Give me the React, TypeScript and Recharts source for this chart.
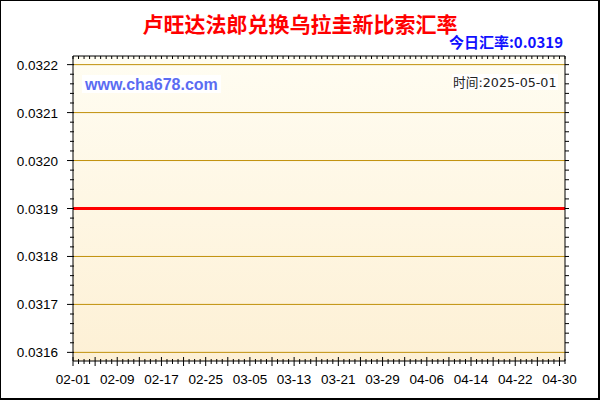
import { LineChart, Line, XAxis, YAxis, CartesianGrid } from 'recharts';

const START = Date.UTC(2025, 1, 1);
const DAY_MS = 86400000;

// daily rate, 02-01 .. 05-01
const rates = [
  0.0319, 0.0319, 0.0319, 0.0319, 0.0319, 0.0319, 0.0319, 0.0319, 0.0319, 0.0319,
  0.0319, 0.0319, 0.0319, 0.0319, 0.0319, 0.0319, 0.0319, 0.0319, 0.0319, 0.0319,
  0.0319, 0.0319, 0.0319, 0.0319, 0.0319, 0.0319, 0.0319, 0.0319, 0.0319, 0.0319,
  0.0319, 0.0319, 0.0319, 0.0319, 0.0319, 0.0319, 0.0319, 0.0319, 0.0319, 0.0319,
  0.0319, 0.0319, 0.0319, 0.0319, 0.0319, 0.0319, 0.0319, 0.0319, 0.0319, 0.0319,
  0.0319, 0.0319, 0.0319, 0.0319, 0.0319, 0.0319, 0.0319, 0.0319, 0.0319, 0.0319,
  0.0319, 0.0319, 0.0319, 0.0319, 0.0319, 0.0319, 0.0319, 0.0319, 0.0319, 0.0319,
  0.0319, 0.0319, 0.0319, 0.0319, 0.0319, 0.0319, 0.0319, 0.0319, 0.0319, 0.0319,
  0.0319, 0.0319, 0.0319, 0.0319, 0.0319, 0.0319, 0.0319, 0.0319, 0.0319, 0.0319,
];

const tickLabels = ['02-01', '02-09', '02-17', '02-25', '03-05', '03-13', '03-21', '03-29', '04-06', '04-14', '04-22', '04-30'];

const yMajor = [0.0316, 0.0317, 0.0318, 0.0319, 0.032, 0.0321, 0.0322];
const yDomain = [0.031582, 0.032218];

const title = '卢旺达法郎兑换乌拉圭新比索汇率';
const todayLabel = '今日汇率:0.0319';
const timeLabel = '时间:2025-05-01';
const site = 'www.cha678.com';

const AXIS_FONT = '"Liberation Sans", Arial, sans-serif';

const md = (i: number) => {
  const d = new Date(START + i * DAY_MS);
  return String(d.getUTCMonth() + 1).padStart(2, '0') + '-' + String(d.getUTCDate()).padStart(2, '0');
};

const data = rates.map((rate, i) => ({ day: i, date: md(i), rate }));
const dayTicks = data.map((d) => d.day);
const labelDays = tickLabels.map((l) => data.findIndex((d) => d.date === l));
// minor ticks every 0.00002 between the labelled values
const yTicks = yMajor.flatMap((m, i) =>
  i === yMajor.length - 1 ? [m] : [0, 1, 2, 3, 4].map((k) => +(m + k * 0.00002).toFixed(5))
);

const isMajorY = (v: number) => yMajor.some((m) => Math.abs(m - v) < 1e-9);

function LeftTick({ x, y, payload }: any) {
  const major = isMajorY(payload.value);
  return (
    <g>
      <line x1={x - (major ? 6 : 3)} x2={x + 1} y1={y} y2={y} stroke="#000" />
      {major && (
        <text x={x - 15} y={y + 5} textAnchor="end" fontSize={13.5} fontFamily={AXIS_FONT} fill="#000">
          {payload.value.toFixed(4)}
        </text>
      )}
    </g>
  );
}

function RightTick({ x, y }: any) {
  return <line x1={x} x2={x + 4} y1={y} y2={y} stroke="#000" />;
}

function BottomTick({ x, y, payload }: any) {
  const d = payload.value;
  const major = d % 4 === 0;
  const idx = labelDays.indexOf(d);
  return (
    <g>
      <line x1={x} x2={x} y1={y - (major ? 4 : 2)} y2={y + (major ? 5 : 3)} stroke="#000" />
      {idx >= 0 && (
        <text x={x} y={y + 23} textAnchor="middle" fontSize={13.5} fontFamily={AXIS_FONT} fill="#000">
          {tickLabels[idx]}
        </text>
      )}
    </g>
  );
}

function TopTick({ x, y }: any) {
  return <line x1={x} x2={x} y1={y} y2={y + 3} stroke="#000" />;
}

export default function App() {
  return (
    <div style={{ position: 'absolute', left: 0, top: 0, width: 600, height: 400, background: '#fff' }}>
      <LineChart width={600} height={400} data={data} margin={{ top: 56, right: 25, bottom: 9, left: 0 }}>
        <defs>
          <linearGradient id="plotBg" x1="0" y1="0" x2="0" y2="1">
            <stop offset="0%" stopColor="#fffdf2" />
            <stop offset="100%" stopColor="#fdf0d5" />
          </linearGradient>
        </defs>
        <CartesianGrid
          xAxisId="bottom"
          yAxisId="left"
          vertical={false}
          horizontalValues={yMajor}
          stroke="#c0900a"
          fill="url(#plotBg)"
          fillOpacity={1}
        />
        <XAxis
          xAxisId="bottom"
          dataKey="day"
          type="number"
          domain={[0, 89]}
          ticks={dayTicks}
          interval={0}
          tickSize={0}
          tickMargin={0}
          height={30}
          axisLine={{ stroke: '#000' }}
          tick={(p: any) => <BottomTick {...p} />}
        />
        <XAxis
          xAxisId="top"
          orientation="top"
          mirror
          dataKey="day"
          type="number"
          domain={[0, 89]}
          ticks={dayTicks}
          interval={0}
          tickSize={0}
          tickMargin={0}
          height={1}
          axisLine={{ stroke: '#000' }}
          tick={(p: any) => <TopTick {...p} />}
        />
        <YAxis
          yAxisId="left"
          type="number"
          domain={yDomain}
          ticks={yTicks}
          interval={0}
          width={73}
          tickSize={0}
          tickMargin={0}
          allowDataOverflow
          axisLine={{ stroke: '#000' }}
          tick={(p: any) => <LeftTick {...p} />}
        />
        <YAxis
          yAxisId="right"
          orientation="right"
          type="number"
          domain={yDomain}
          ticks={yTicks}
          interval={0}
          width={10}
          tickSize={0}
          tickMargin={0}
          allowDataOverflow
          axisLine={{ stroke: '#000' }}
          tick={(p: any) => <RightTick {...p} />}
        />
        <Line
          xAxisId="bottom"
          yAxisId="left"
          type="linear"
          dataKey="rate"
          stroke="#ff0000"
          strokeWidth={3}
          dot={false}
          activeDot={false}
          isAnimationActive={false}
        />
      </LineChart>
      <svg width={600} height={400} style={{ position: 'absolute', left: 0, top: 0, pointerEvents: 'none' }}>
        <text x={300} y={32} textAnchor="middle" fontSize={21} fontWeight="bold" fill="#ff0000" fontFamily='"Noto Sans CJK SC", sans-serif'>
          {title}
        </text>
        <text x={563} y={48} textAnchor="end" fontSize={15} fontWeight="bold" fill="#1010ff" fontFamily='"Noto Sans CJK SC", sans-serif'>
          {todayLabel}
        </text>
        <rect x={82} y={75} width={139} height={18} fill="#fff" />
        <text x={85} y={90} fontSize={16} fontWeight="bold" fill="#5b6cf2" fontFamily={AXIS_FONT}>
          {site}
        </text>
        <rect x={452} y={74} width={106} height={16} fill="#fff" />
        <text x={556.5} y={87} textAnchor="end" fontSize={12.7} fill="#222" fontFamily='"DejaVu Sans", "Noto Sans CJK SC", sans-serif'>
          {timeLabel}
        </text>
      </svg>
      <div
        style={{
          position: 'absolute',
          inset: 0,
          borderStyle: 'solid',
          borderColor: '#000',
          borderWidth: '1px 2px 2px 1px',
          boxSizing: 'border-box',
          pointerEvents: 'none',
        }}
      />
    </div>
  );
}
